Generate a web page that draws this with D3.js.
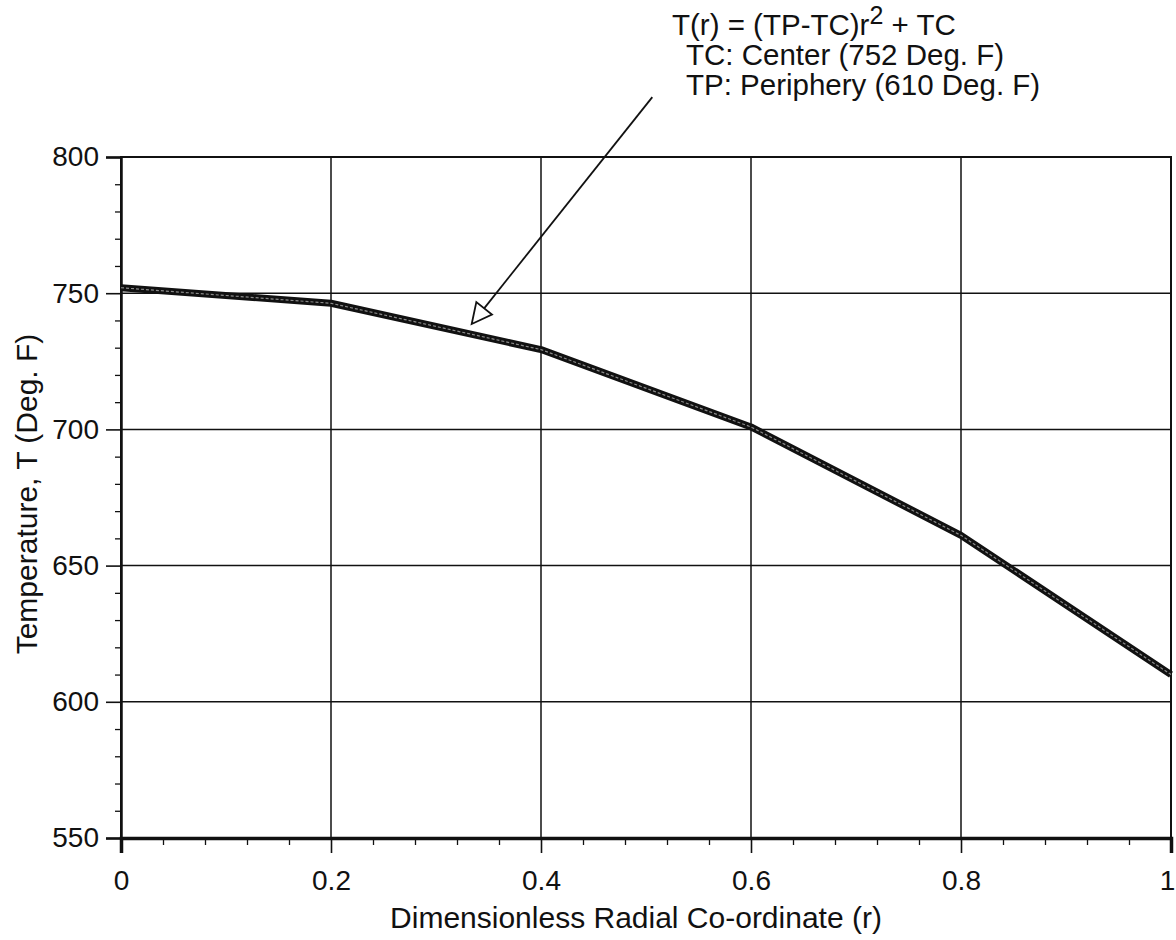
<!DOCTYPE html>
<html>
<head>
<meta charset="utf-8">
<script src="https://cdn.jsdelivr.net/npm/d3@7"></script>
<style>
  html, body { margin: 0; padding: 0; background: #fff; }
  svg { display: block; }
  text { font-family: "Liberation Sans", Arial, sans-serif; fill: #111; }
</style>
</head>
<body>
<svg id="chart" width="1176" height="940"></svg>
<script>
// Radial temperature profile, T(r) = (TP - TC) r^2 + TC, sampled at r = 0, 0.2, ... 1
const radius = [0, 0.2, 0.4, 0.6, 0.8, 1.0];
const temperature = [752, 746.3, 729.3, 700.9, 661.1, 610];

const xMajorTicks = [0, 0.2, 0.4, 0.6, 0.8, 1];
const xTickLabels = ["0", "0.2", "0.4", "0.6", "0.8", "1"];
const xMinorTicks = d3.range(0, 25).map(i => i * 0.04).filter((v, i) => i % 5 !== 0);
const yMajorTicks = [550, 600, 650, 700, 750, 800];
const yMinorTicks = d3.range(550, 801, 10).filter(v => v % 50 !== 0);

const noteLines = ["TC: Center (752 Deg. F)", "TP: Periphery (610 Deg. F)"];
// arrow from the note to the curve, in data units [r, T]
const arrowFrom = [0.506, 822];
const arrowTo = [0.334, 738.7];

const svg = d3.select("#chart");
const plotL = 121, plotR = 1171, plotT = 157, plotB = 838;

const x = d3.scaleLinear().domain([0, 1]).range([plotL, plotR]);
const y = d3.scaleLinear().domain([550, 800]).range([plotB, plotT]);

// grid lines
const grid = svg.append("g").attr("stroke", "#111").attr("stroke-width", 1.5);
grid.selectAll("line.gx").data(xMajorTicks.slice(1, -1)).join("line").attr("class", "gx")
  .attr("x1", d => x(d)).attr("x2", d => x(d)).attr("y1", plotT).attr("y2", plotB);
grid.selectAll("line.gy").data(yMajorTicks.slice(1, -1)).join("line").attr("class", "gy")
  .attr("y1", d => y(d)).attr("y2", d => y(d)).attr("x1", plotL).attr("x2", plotR);

// frame
svg.append("rect").attr("x", plotL).attr("y", plotT).attr("width", plotR - plotL).attr("height", plotB - plotT)
  .attr("fill", "none").attr("stroke", "#111").attr("stroke-width", 2);

// minor ticks
svg.append("g").attr("transform", `translate(0,${plotB})`)
  .call(d3.axisBottom(x).tickValues(xMinorTicks).tickSize(7).tickFormat(""))
  .call(g => g.select(".domain").remove())
  .call(g => g.selectAll("line").attr("stroke", "#111").attr("stroke-width", 1.3));
svg.append("g").attr("transform", `translate(${plotL},0)`)
  .call(d3.axisLeft(y).tickValues(yMinorTicks).tickSize(6).tickFormat(""))
  .call(g => g.select(".domain").remove())
  .call(g => g.selectAll("line").attr("stroke", "#111").attr("stroke-width", 1.3));

// major axes
svg.append("g").attr("transform", `translate(0,${plotB})`)
  .call(d3.axisBottom(x).tickValues(xMajorTicks).tickSize(15).tickPadding(17)
    .tickFormat((d, i) => xTickLabels[i]))
  .call(g => g.select(".domain").attr("stroke", "#111").attr("stroke-width", 3.5))
  .call(g => g.selectAll("line").attr("stroke", "#111").attr("stroke-width", 1.6))
  .call(g => g.selectAll("text").attr("font-size", 28).attr("fill", "#111")
    .attr("font-family", "'Liberation Sans', Arial, sans-serif")
    .attr("dx", d => d === 1 ? -4 : 0));
svg.append("g").attr("transform", `translate(${plotL},0)`)
  .call(d3.axisLeft(y).tickValues(yMajorTicks).tickSize(15).tickPadding(7))
  .call(g => g.select(".domain").attr("stroke", "#111").attr("stroke-width", 2.5))
  .call(g => g.selectAll("line").attr("stroke", "#111").attr("stroke-width", 1.6))
  .call(g => g.selectAll("text").attr("font-size", 28).attr("fill", "#111")
    .attr("font-family", "'Liberation Sans', Arial, sans-serif"));

// axis titles
svg.append("text").attr("x", 636).attr("y", 928).attr("text-anchor", "middle")
  .attr("font-size", 30).text("Dimensionless Radial Co-ordinate (r)");
svg.append("text").attr("transform", `translate(37,494) rotate(-90)`)
  .attr("text-anchor", "middle").attr("font-size", 30).text("Temperature, T (Deg. F)");

// temperature curve, drawn as a hollow double stroke
const line = d3.line().x((d, i) => x(radius[i])).y(d => y(d));
svg.append("path").datum(temperature).attr("d", line)
  .attr("fill", "none").attr("stroke", "#111").attr("stroke-width", 7).attr("stroke-linejoin", "round");
svg.append("path").datum(temperature).attr("d", line)
  .attr("fill", "none").attr("stroke", "#8a8a8a").attr("stroke-width", 1.2)
  .attr("stroke-dasharray", "3,2").attr("stroke-linejoin", "round");

// annotation arrow with an open triangular head
const [sx, sy] = [x(arrowFrom[0]), y(arrowFrom[1])];
const [tx, ty] = [x(arrowTo[0]), y(arrowTo[1])];
const ang = Math.atan2(ty - sy, tx - sx);
const headLen = 20, headHalf = 10;
const bx = tx - headLen * Math.cos(ang), by = ty - headLen * Math.sin(ang);
const px = -Math.sin(ang) * headHalf, py = Math.cos(ang) * headHalf;
svg.append("line").attr("x1", sx).attr("y1", sy).attr("x2", bx).attr("y2", by)
  .attr("stroke", "#111").attr("stroke-width", 1.8);
svg.append("path")
  .attr("d", `M${tx},${ty}L${bx + px},${by + py}L${bx - px},${by - py}Z`)
  .attr("fill", "#fff").attr("stroke", "#111").attr("stroke-width", 1.8).attr("stroke-linejoin", "miter");

// formula note
const eq = svg.append("text").attr("x", 672).attr("y", 35).attr("font-size", 29.5);
eq.append("tspan").text("T(r) = (TP-TC)r");
eq.append("tspan").attr("font-size", 25).attr("dy", -11).text("2");
eq.append("tspan").attr("dy", 11).text(" + TC");
svg.selectAll("text.note").data(noteLines).join("text").attr("class", "note")
  .attr("x", 686).attr("y", (d, i) => 65 + i * 29.5).attr("font-size", 29.5).text(d => d);
</script>
</body>
</html>
